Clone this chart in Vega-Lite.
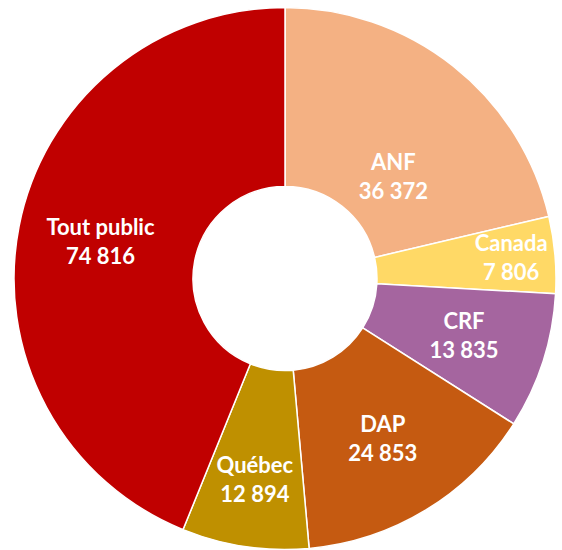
{
  "$schema": "https://vega.github.io/schema/vega-lite/v6.json",
  "width": 554,
  "height": 543,
  "autosize": {"type": "none"},
  "padding": {"left": 8, "top": 7, "right": 0, "bottom": 0},
  "background": "white",
  "config": {"view": {"stroke": null}},
  "data": {
    "values": [
      {"idx": 1, "cat": "ANF", "value": 36372, "label": "36 372"},
      {"idx": 2, "cat": "Canada", "value": 7806, "label": "7 806"},
      {"idx": 3, "cat": "CRF", "value": 13835, "label": "13 835"},
      {"idx": 4, "cat": "DAP", "value": 24853, "label": "24 853"},
      {"idx": 5, "cat": "Québec", "value": 12894, "label": "12 894"},
      {"idx": 6, "cat": "Tout public", "value": 74816, "label": "74 816"}
    ]
  },
  "encoding": {
    "theta": {"field": "value", "type": "quantitative", "stack": true},
    "order": {"field": "idx", "type": "quantitative"},
    "detail": {"field": "cat", "type": "nominal"}
  },
  "layer": [
    {
      "mark": {"type": "arc", "radius": 271, "radius2": 92, "stroke": "white", "strokeWidth": 1.5},
      "encoding": {
        "color": {
          "field": "cat",
          "type": "nominal",
          "legend": null,
          "scale": {
            "domain": ["ANF", "Canada", "CRF", "DAP", "Québec", "Tout public"],
            "range": ["#F4B183", "#FFD966", "#A5659F", "#C55A11", "#BF9000", "#C00000"]
          }
        }
      }
    },
    {
      "mark": {"type": "text", "radius": 160, "dx": 9, "dy": 9.5, "font": "Lato", "fontWeight": "bold", "fontSize": 22, "fill": "white", "baseline": "middle", "align": "center"},
      "encoding": {"text": {"condition": {"test": "datum.cat === 'ANF'", "field": "cat"}, "value": ""}}
    },
    {
      "mark": {"type": "text", "radius": 160, "dx": 9, "dy": 38.5, "font": "Lato", "fontWeight": "bold", "fontSize": 22, "fill": "white", "baseline": "middle", "align": "center"},
      "encoding": {"text": {"condition": {"test": "datum.cat === 'ANF'", "field": "label"}, "value": ""}}
    },
    {
      "mark": {"type": "text", "radius": 227, "dy": -14.5, "font": "Lato", "fontWeight": "bold", "fontSize": 22, "fill": "white", "baseline": "middle", "align": "center"},
      "encoding": {"text": {"condition": {"test": "datum.cat === 'Canada'", "field": "cat"}, "value": ""}}
    },
    {
      "mark": {"type": "text", "radius": 227, "dy": 14.5, "font": "Lato", "fontWeight": "bold", "fontSize": 22, "fill": "white", "baseline": "middle", "align": "center"},
      "encoding": {"text": {"condition": {"test": "datum.cat === 'Canada'", "field": "label"}, "value": ""}}
    },
    {
      "mark": {"type": "text", "radius": 204, "dy": -14.5, "font": "Lato", "fontWeight": "bold", "fontSize": 22, "fill": "white", "baseline": "middle", "align": "center"},
      "encoding": {"text": {"condition": {"test": "datum.cat === 'Québec'", "field": "cat"}, "value": ""}}
    },
    {
      "mark": {"type": "text", "radius": 204, "dy": 14.5, "font": "Lato", "fontWeight": "bold", "fontSize": 22, "fill": "white", "baseline": "middle", "align": "center"},
      "encoding": {"text": {"condition": {"test": "datum.cat === 'Québec'", "field": "label"}, "value": ""}}
    },
    {
      "mark": {"type": "text", "radius": 188, "dy": -14.5, "font": "Lato", "fontWeight": "bold", "fontSize": 22, "fill": "white", "baseline": "middle", "align": "center"},
      "encoding": {"text": {"condition": {"test": "datum.cat === 'CRF' || datum.cat === 'DAP' || datum.cat === 'Tout public'", "field": "cat"}, "value": ""}}
    },
    {
      "mark": {"type": "text", "radius": 188, "dy": 14.5, "font": "Lato", "fontWeight": "bold", "fontSize": 22, "fill": "white", "baseline": "middle", "align": "center"},
      "encoding": {"text": {"condition": {"test": "datum.cat === 'CRF' || datum.cat === 'DAP' || datum.cat === 'Tout public'", "field": "label"}, "value": ""}}
    }
  ]
}
